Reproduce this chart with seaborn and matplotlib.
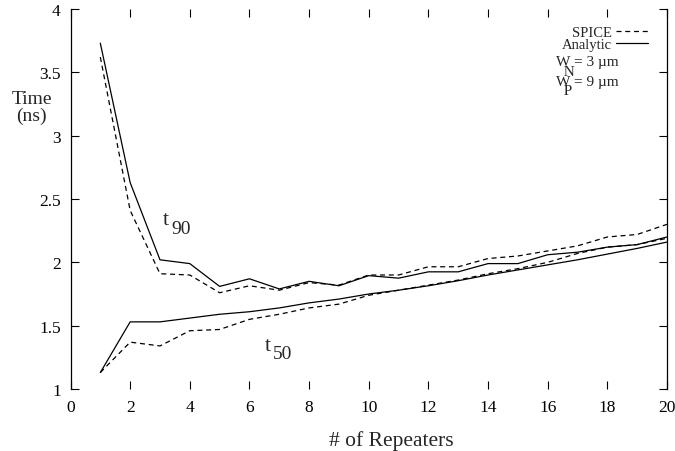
import matplotlib
matplotlib.use("Agg")
import matplotlib.pyplot as plt
from matplotlib.lines import Line2D
import pandas as pd
import seaborn as sns

# Delay vs. number of repeaters (ns)
repeaters = list(range(1, 21))
t90_spice = [3.62, 2.41, 1.91, 1.90, 1.76, 1.815, 1.78, 1.84, 1.82, 1.90,
             1.90, 1.965, 1.965, 2.03, 2.05, 2.09, 2.13, 2.20, 2.22, 2.30]
t90_analytic = [3.73, 2.63, 2.02, 1.99, 1.81, 1.87, 1.79, 1.85, 1.815, 1.895,
                1.875, 1.925, 1.925, 1.99, 1.99, 2.06, 2.08, 2.12, 2.14, 2.20]
t50_spice = [1.13, 1.37, 1.34, 1.46, 1.47, 1.55, 1.59, 1.64, 1.67, 1.74,
             1.78, 1.82, 1.86, 1.91, 1.95, 2.00, 2.07, 2.12, 2.14, 2.19]
t50_analytic = [1.13, 1.53, 1.53, 1.56, 1.59, 1.61, 1.64, 1.68, 1.71, 1.75,
                1.78, 1.815, 1.855, 1.90, 1.94, 1.98, 2.02, 2.065, 2.11, 2.16]

x_ticks = list(range(0, 21, 2))
y_ticks = [1, 1.5, 2, 2.5, 3, 3.5, 4]
y_tick_labels = ["1", "1.5", "2", "2.5", "3", "3.5", "4"]

frames = []
for curve, model, vals in [("t90", "SPICE", t90_spice),
                           ("t90", "Analytic", t90_analytic),
                           ("t50", "SPICE", t50_spice),
                           ("t50", "Analytic", t50_analytic)]:
    frames.append(pd.DataFrame({"repeaters": repeaters, "time": vals,
                                "curve": curve, "model": model}))
df = pd.concat(frames, ignore_index=True)

sns.set_style("white")
plt.rcParams["font.family"] = ["Liberation Serif", "DejaVu Serif"]

fig = plt.figure(figsize=(6.75, 4.52), dpi=100)
ax = fig.add_axes([70.5 / 675, 1 - 390 / 452, (667 - 70.5) / 675, 380 / 452])

dash_map = {"SPICE": (4, 3), "Analytic": ""}
sns.lineplot(data=df, x="repeaters", y="time", style="model",
             units="curve", estimator=None, color="black",
             dashes=dash_map, linewidth=0.9, legend=False, ax=ax)

ax.set_xlim(0, 20)
ax.set_ylim(1, 4)
ax.set_xticks(x_ticks)
ax.set_xticklabels([str(v) for v in x_ticks])
ax.set_yticks(y_ticks)
ax.set_yticklabels(y_tick_labels)
ax.tick_params(direction="in", length=6, width=0.8, top=True, right=True,
               bottom=True, left=True, labelsize=12.5, colors="black",
               pad=7)

for side in ["top", "bottom"]:
    ax.spines[side].set_visible(False)
for side in ["left", "right"]:
    ax.spines[side].set_linewidth(0.9)
    ax.spines[side].set_color("black")

ax.set_xlabel("# of Repeaters", fontsize=15.5, va="baseline")
ax.xaxis.set_label_coords(0.538, -0.1466)
ax.set_ylabel("Time\n(ns)", fontsize=14, rotation=0, ha="center",
              va="center", linespacing=0.95)
ax.yaxis.set_label_coords(-0.065, 0.742)

# curve labels
ax.text(3.19, 2.34, "t", fontsize=16, ha="center", va="center")
ax.text(3.72, 2.27, "90", fontsize=14, ha="center", va="center")
ax.text(6.62, 1.345, "t", fontsize=16, ha="center", va="center")
ax.text(7.11, 1.28, "50", fontsize=14, ha="center", va="center")

handles = [Line2D([], [], color="black", lw=0.9, dashes=(4, 3)),
           Line2D([], [], color="black", lw=0.9)]
ax.legend(handles, ["SPICE", "Analytic"], markerfirst=False, frameon=False,
          loc="upper right", bbox_to_anchor=(0.968, 0.955), borderpad=0,
          borderaxespad=0, fontsize=10.5, handlelength=2.2,
          handletextpad=0.3, labelspacing=-0.12)

# device widths, subscripts dropped onto their own line
ax.text(0.814, 0.879, "W = 3 µm\n  N\nW = 9 µm\n  P", fontsize=11,
        transform=ax.transAxes, ha="left", va="top", multialignment="left",
        linespacing=0.68)

fig.savefig("out.png", dpi=100, facecolor="white")
